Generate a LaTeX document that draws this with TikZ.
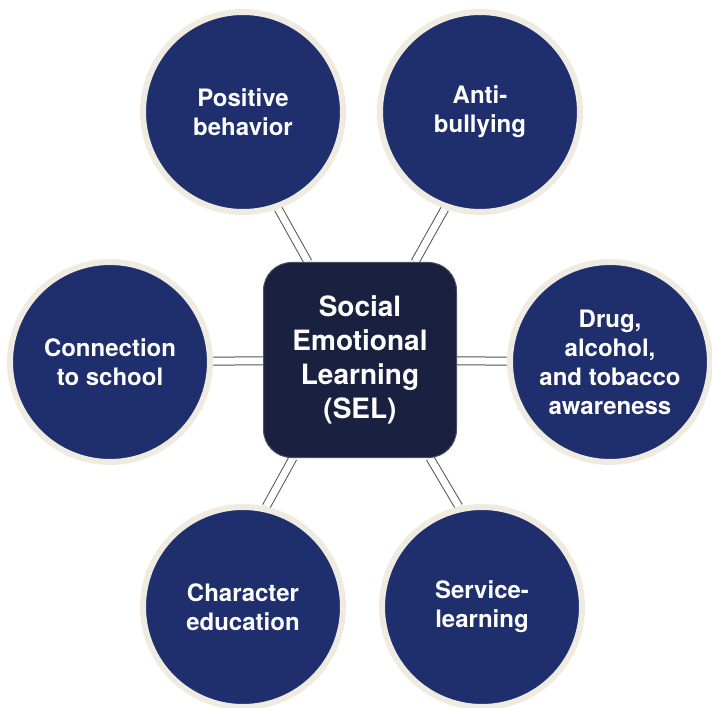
\documentclass[tikz,border=0pt]{standalone}
\usepackage{fontspec}
\setmainfont{TeX Gyre Heros}
\usepackage{tikz}
\usetikzlibrary{backgrounds}

\definecolor{topicblue}{HTML}{1F2F6E}
\definecolor{coreblue}{HTML}{1A2140}
\definecolor{rimcream}{HTML}{F0EBE0}
\definecolor{linkgray}{HTML}{555555}

\begin{document}
\begin{tikzpicture}[x=1pt, y=-1pt,
    topic/.style={circle, minimum size=200pt, fill=topicblue, draw=rimcream,
        line width=6pt, text=white, align=center,
        font=\fontsize{24}{29}\selectfont\bfseries},
    core/.style={rectangle, rounded corners=28pt, minimum width=193pt,
        minimum height=195pt, fill=coreblue, draw=gray!50!coreblue, line width=1pt,
        text=white, align=center, font=\fontsize{28}{34}\selectfont\bfseries},
    link/.style={draw=linkgray, line width=1pt, double=white, double distance=7pt}]
    \useasboundingbox (0,0) rectangle (712,708);
    % centre box
    \node[core] (sel) at (360,360) {Social\\Emotional\\Learning\\(SEL)};
    % the six topics
    \node[topic] (pb) at (243,112) {Positive\\behavior};
    \node[topic] (ab) at (480,112) {Anti-\\bullying};
    \node[topic] (cs) at (110,362) {Connection\\to school};
    \node[topic] (da) at (610,362) {Drug,\\alcohol,\\and tobacco\\awareness};
    \node[topic] (ce) at (243,607) {Character\\education};
    \node[topic] (sl) at (482,607) {Service-\\learning};
    % connectors
    \begin{pgfonlayer}{background}
        \draw[link] (pb.-70) -- ([xshift=-52pt]sel.north);
        \draw[link] (ab.-110) -- ([xshift=55pt]sel.north);
        \draw[link] (cs) -- (sel);
        \draw[link] (da) -- (sel);
        \draw[link] (ce.77) -- ([xshift=-67pt]sel.south);
        \draw[link] (sl.103) -- ([xshift=70pt]sel.south);
    \end{pgfonlayer}
\end{tikzpicture}
\end{document}
